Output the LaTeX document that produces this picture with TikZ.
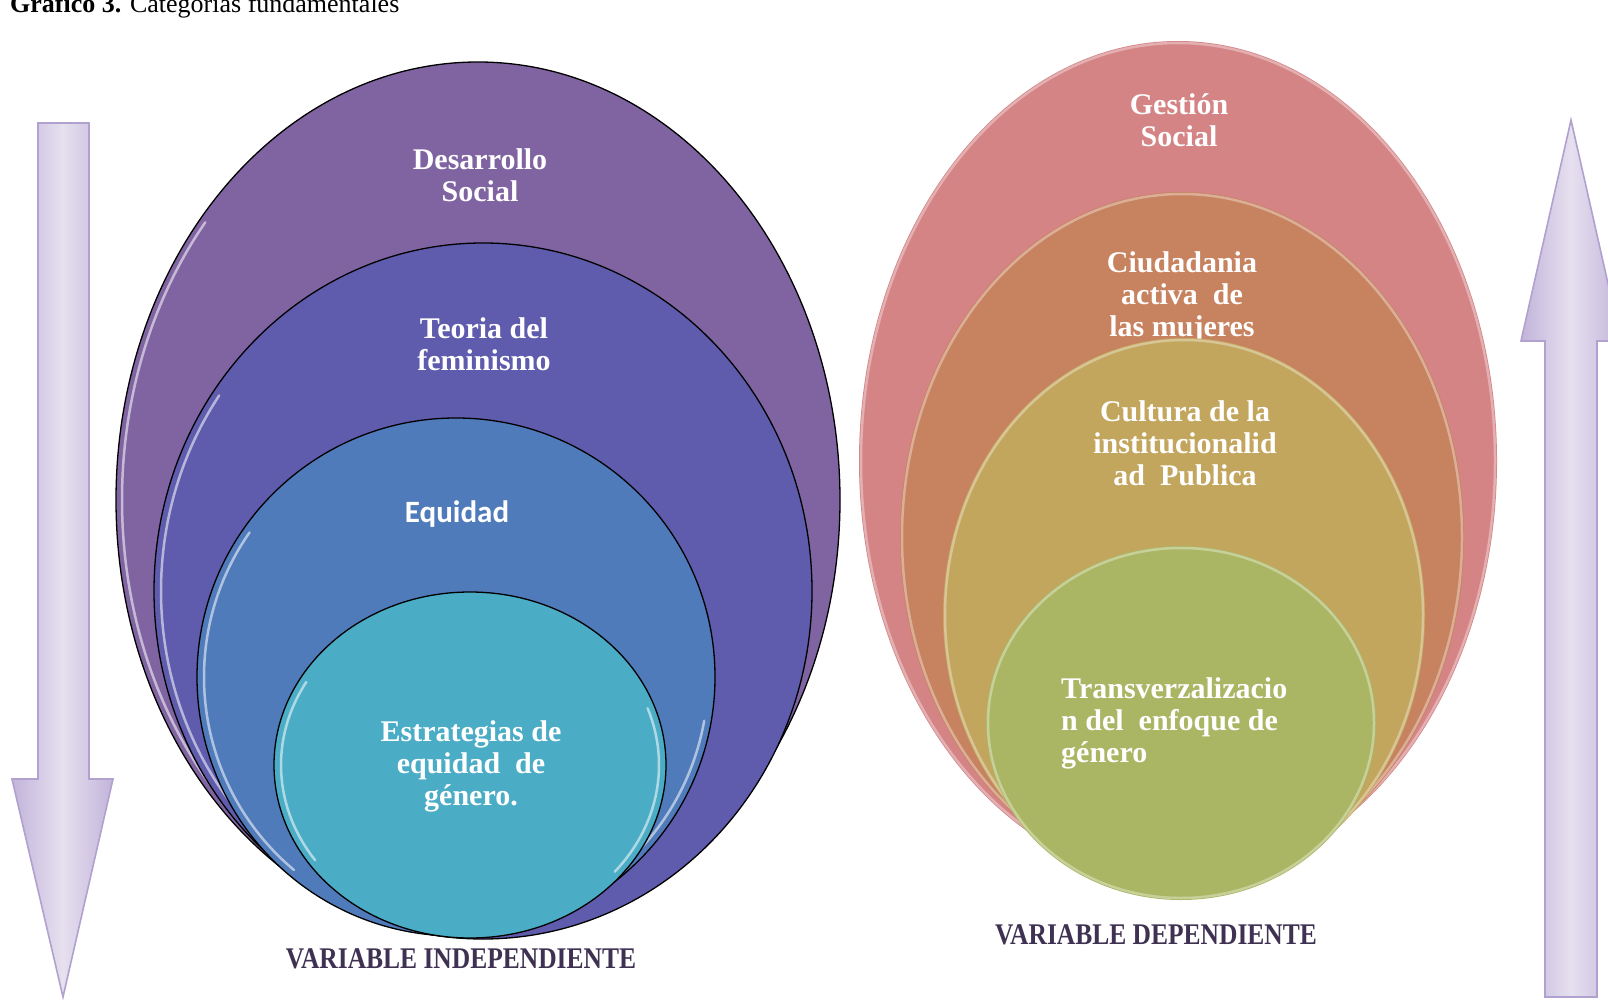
\documentclass[tikz,border=0pt]{standalone}
\usepackage{fontspec}
\setmainfont{Liberation Serif}
\newfontfamily\calib{Carlito}
\definecolor{cdes}{HTML}{8064A2}
\definecolor{cteo}{HTML}{5F5BAD}
\definecolor{cequ}{HTML}{4F7BBB}
\definecolor{cest}{HTML}{4BACC6}
\definecolor{cges}{HTML}{D48485}
\definecolor{cciu}{HTML}{C7835F}
\definecolor{ccul}{HTML}{C3A65E}
\definecolor{ctra}{HTML}{AAB664}
\definecolor{arrA}{HTML}{C2B4DA}
\definecolor{arrB}{HTML}{E6E0EF}
\definecolor{arrE}{HTML}{B1A1CE}
\definecolor{vartxt}{HTML}{3F3151}
\tikzset{
  lefte/.style={draw=black, line width=1.3pt},
  righte/.style={line width=2.5pt},
  shine/.style={draw=white, opacity=0.55, line width=2.5pt, line cap=round},
  lbl/.style={text=white, align=center, inner sep=0pt, font=\fontsize{30}{32}\selectfont\bfseries},
  varlbl/.style={text=vartxt, inner sep=0pt, xscale=0.85, font=\fontsize{30}{32}\selectfont\bfseries},
  bigarrow/.style={draw=arrE, line width=1.6pt, left color=arrA, right color=arrA, middle color=arrB}
}
\begin{document}
\begin{tikzpicture}[x=1pt,y=-1pt]
\useasboundingbox (0,0) rectangle (1608,1000);
\clip (0,0) rectangle (1608,1000);
\fill[white] (0,0) rectangle (1608,1000);

% title
\node[anchor=base west, inner sep=0pt, font=\fontsize{26}{28}\selectfont] (title) at (10,13) {\textbf{Gráfico 3.} Categorías fundamentales};

% arrows
\path[bigarrow] (38,123) -- (89,123) -- (89,779) -- (113,779) -- (63,997) -- (12,779) -- (38,779) -- cycle;
\path[bigarrow] (1571,120) -- (1621,341) -- (1597,341) -- (1597,997) -- (1545,997) -- (1545,341) -- (1521,341) -- cycle;

% left group
\fill[cdes] (478,500) ellipse [x radius=362pt, y radius=438pt];
\draw[lefte] (478,500) ellipse [x radius=362pt, y radius=438pt];
\draw[shine] ([shift={(140:356pt and 432pt)}]478,500) arc[start angle=140, end angle=235, x radius=356pt, y radius=432pt];
\node[lbl] (des) at (480,175) {Desarrollo\\Social};

\fill[cteo] (483,591) ellipse [x radius=329pt, y radius=348pt];
\draw[lefte] (483,591) ellipse [x radius=329pt, y radius=348pt];
\draw[shine] ([shift={(145:322pt and 341pt)}]483,591) arc[start angle=145, end angle=240, x radius=322pt, y radius=341pt];
\node[lbl] (teo) at (484,344) {Teoria del\\feminismo};

\fill[cequ] (456,677) ellipse [x radius=259pt, y radius=259pt];
\draw[lefte] (456,677) ellipse [x radius=259pt, y radius=259pt];
\draw[shine] ([shift={(145:252pt and 252pt)}]456,677) arc[start angle=145, end angle=230, x radius=252pt, y radius=252pt];
\draw[shine] ([shift={(-10:252pt and 252pt)}]456,677) arc[start angle=-10, end angle=-60, x radius=252pt, y radius=252pt];
\node[lbl, font=\calib\fontsize{31}{33}\selectfont\bfseries] (equ) at (457,514) {Equidad};

\fill[cest] (470,765) ellipse [x radius=196pt, y radius=173pt];
\draw[lefte] (470,765) ellipse [x radius=196pt, y radius=173pt];
\draw[shine] ([shift={(150:189pt and 166pt)}]470,765) arc[start angle=150, end angle=215, x radius=189pt, y radius=166pt];
\draw[shine] ([shift={(20:189pt and 166pt)}]470,765) arc[start angle=20, end angle=-40, x radius=189pt, y radius=166pt];
\node[lbl] (est) at (471,766) {Estrategias de\\equidad~~de\\género.};

\node[varlbl] (vind) at (461,959) {VARIABLE INDEPENDIENTE};

% right group
\fill[cges] (1178,461) ellipse [x radius=319pt, y radius=420pt];
\draw[righte, draw=cges!65!white] (1178,461) ellipse [x radius=317pt, y radius=418pt];
\node[lbl] (ges) at (1179,120) {Gestión\\Social};

\fill[cciu] (1182,537) ellipse [x radius=282pt, y radius=345pt];
\draw[righte, draw=cciu!65!white] (1182,537) ellipse [x radius=280pt, y radius=343pt];
\node[lbl] (ciu) at (1182,297) {Ciudadania\\activa~~de\\las mujeres};

\fill[ccul] (1184,615) ellipse [x radius=241pt, y radius=277pt];
\draw[righte, draw=ccul!65!white] (1184,615) ellipse [x radius=239pt, y radius=275pt];
\node[lbl] (cul) at (1185,443) {Cultura de la\\institucionalid\\ad~~Publica};

\fill[ctra] (1181,723) ellipse [x radius=195pt, y radius=177pt];
\draw[righte, draw=ctra!65!white] (1181,723) ellipse [x radius=193pt, y radius=175pt];
\node[lbl, align=left, anchor=west] (tra) at (1061,723) {Transverzalizacio\\n del~~enfoque de\\género};

\node[varlbl] (vdep) at (1156,935) {VARIABLE DEPENDIENTE};
\end{tikzpicture}
\end{document}
